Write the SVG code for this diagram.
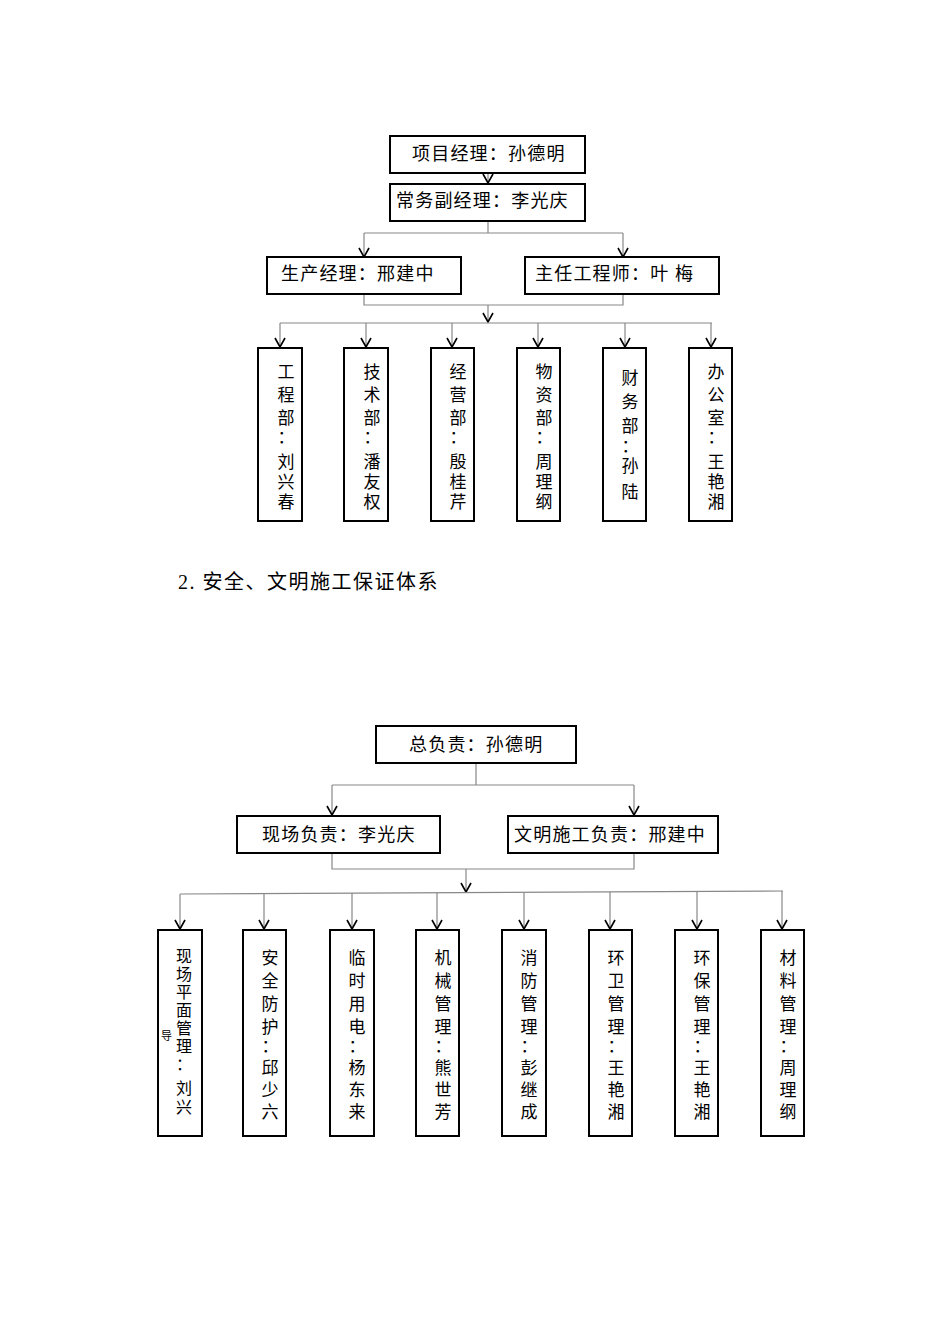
<svg xmlns="http://www.w3.org/2000/svg" width="950" height="1344" viewBox="0 0 950 1344">
<defs>
<marker id="ah" viewBox="-1 -6 11 12" refX="9" refY="0" markerWidth="11" markerHeight="12" markerUnits="userSpaceOnUse" orient="auto">
<path d="M0,-5 L9,0 L0,5" fill="none" stroke="#000" stroke-width="1.6"/>
</marker>
</defs>
<style>
rect{fill:#fff;stroke:#000;stroke-width:2}
text{font-family:"Liberation Serif","Noto Sans CJK SC",serif;font-size:18px;fill:#000}
.h{letter-spacing:1.2px}
.v{text-anchor:middle;font-size:17px}
.w{text-anchor:middle;font-size:16px}
.c{fill:none;stroke:#888;stroke-width:1.2}
.a{marker-end:url(#ah)}
</style>
<rect width="950" height="1344" style="fill:#fff;stroke:none"/>
<g id="connectors">
<path class="c a" d="M488,173 V183"/>
<path class="c" d="M488,221 V233 M364,233 H623"/>
<path class="c a" d="M364,233 V257"/>
<path class="c a" d="M623,233 V257"/>
<path class="c" d="M364,294 V305 H623 V294"/>
<path class="c a" d="M488,305 V322"/>
<path class="c" d="M280,323 H712"/>
<path class="c a" d="M280,323 V347"/><path class="c a" d="M366,323 V347"/><path class="c a" d="M452,323 V347"/>
<path class="c a" d="M538,323 V347"/><path class="c a" d="M625,323 V347"/><path class="c a" d="M711,323 V347"/>
<path class="c" d="M476,763 V785 M332,785 H634"/>
<path class="c a" d="M332,785 V815"/><path class="c a" d="M634,785 V815"/>
<path class="c" d="M332,853 V869 H634 V853"/>
<path class="c a" d="M466,869 V892"/>
<path class="c" d="M180,894 L783,891"/>
<path class="c a" d="M180,894 V929"/><path class="c a" d="M264,894 V929"/><path class="c a" d="M352,893 V929"/><path class="c a" d="M437,893 V929"/>
<path class="c a" d="M524,893 V929"/><path class="c a" d="M610,892 V929"/><path class="c a" d="M697,892 V929"/><path class="c a" d="M782,891 V929"/>
</g>
<g id="n1"><rect x="390" y="136" width="195" height="37"/><text class="h" x="412" y="160">项目经理：孙德明</text></g>
<g id="n2"><rect x="390" y="184" width="195" height="37"/><text class="h" x="396" y="207">常务副经理：李光庆</text></g>
<g id="n3"><rect x="267" y="257" width="194" height="37"/><text class="h" x="281" y="280">生产经理：邢建中</text></g>
<g id="n4"><rect x="525" y="257" width="194" height="37"/><text class="h" x="535" y="280">主任工程师：叶  梅</text></g>
<g id="d1"><rect x="258" y="348" width="44" height="173"/><text class="v" x="286" y="378">工</text><text class="v" x="286" y="401">程</text><text class="v" x="286" y="424">部</text><text class="v" x="286" y="443">：</text><text class="v" x="286" y="468">刘</text><text class="v" x="286" y="488">兴</text><text class="v" x="286" y="508">春</text></g>
<g id="d2"><rect x="344" y="348" width="44" height="173"/><text class="v" x="372" y="378">技</text><text class="v" x="372" y="401">术</text><text class="v" x="372" y="424">部</text><text class="v" x="372" y="443">：</text><text class="v" x="372" y="468">潘</text><text class="v" x="372" y="488">友</text><text class="v" x="372" y="508">权</text></g>
<g id="d3"><rect x="431" y="348" width="43" height="173"/><text class="v" x="458" y="378">经</text><text class="v" x="458" y="401">营</text><text class="v" x="458" y="424">部</text><text class="v" x="458" y="443">：</text><text class="v" x="458" y="468">殷</text><text class="v" x="458" y="488">桂</text><text class="v" x="458" y="508">芹</text></g>
<g id="d4"><rect x="517" y="348" width="43" height="173"/><text class="v" x="544" y="378">物</text><text class="v" x="544" y="401">资</text><text class="v" x="544" y="424">部</text><text class="v" x="544" y="443">：</text><text class="v" x="544" y="468">周</text><text class="v" x="544" y="488">理</text><text class="v" x="544" y="508">纲</text></g>
<g id="d5"><rect x="603" y="348" width="43" height="173"/><text class="v" x="630" y="384">财</text><text class="v" x="630" y="408">务</text><text class="v" x="630" y="432">部</text><text class="v" x="630" y="452">：</text><text class="v" x="630" y="472">孙</text><text class="v" x="630" y="498">陆</text></g>
<g id="d6"><rect x="689" y="348" width="43" height="173"/><text class="v" x="716" y="378">办</text><text class="v" x="716" y="401">公</text><text class="v" x="716" y="424">室</text><text class="v" x="716" y="443">：</text><text class="v" x="716" y="468">王</text><text class="v" x="716" y="488">艳</text><text class="v" x="716" y="508">湘</text></g>
<text id="heading" x="178" y="589" style="font-size:20px;letter-spacing:1.5px">2. 安全、文明施工保证体系</text>
<g id="m1"><rect x="376" y="726" width="200" height="37"/><text class="h" x="409" y="751">总负责：孙德明</text></g>
<g id="m2"><rect x="237" y="816" width="203" height="37"/><text class="h" x="262" y="841">现场负责：李光庆</text></g>
<g id="m3"><rect x="508" y="816" width="210" height="37"/><text class="h" x="514" y="841">文明施工负责：邢建中</text></g>
<g id="s1"><rect x="158" y="930" width="44" height="206"/><text class="w" x="184" y="962">现</text><text class="w" x="184" y="980">场</text><text class="w" x="184" y="998">平</text><text class="w" x="184" y="1016">面</text><text class="w" x="184" y="1034">管</text><text class="w" x="184" y="1052">理</text><text class="w" x="184" y="1070">：</text><text class="w" x="184" y="1094">刘</text><text class="w" x="184" y="1113">兴</text><text x="161" y="1040" style="font-size:11px">导</text></g>
<g id="s2"><rect x="243" y="930" width="43" height="206"/><text class="v" x="270" y="964">安</text><text class="v" x="270" y="987">全</text><text class="v" x="270" y="1010">防</text><text class="v" x="270" y="1033">护</text><text class="v" x="270" y="1052">：</text><text class="v" x="270" y="1074">邱</text><text class="v" x="270" y="1096">少</text><text class="v" x="270" y="1118">六</text></g>
<g id="s3"><rect x="330" y="930" width="44" height="206"/><text class="v" x="357" y="964">临</text><text class="v" x="357" y="987">时</text><text class="v" x="357" y="1010">用</text><text class="v" x="357" y="1033">电</text><text class="v" x="357" y="1052">：</text><text class="v" x="357" y="1074">杨</text><text class="v" x="357" y="1096">东</text><text class="v" x="357" y="1118">来</text></g>
<g id="s4"><rect x="416" y="930" width="43" height="206"/><text class="v" x="443" y="964">机</text><text class="v" x="443" y="987">械</text><text class="v" x="443" y="1010">管</text><text class="v" x="443" y="1033">理</text><text class="v" x="443" y="1052">：</text><text class="v" x="443" y="1074">熊</text><text class="v" x="443" y="1096">世</text><text class="v" x="443" y="1118">芳</text></g>
<g id="s5"><rect x="502" y="930" width="44" height="206"/><text class="v" x="529" y="964">消</text><text class="v" x="529" y="987">防</text><text class="v" x="529" y="1010">管</text><text class="v" x="529" y="1033">理</text><text class="v" x="529" y="1052">：</text><text class="v" x="529" y="1074">彭</text><text class="v" x="529" y="1096">继</text><text class="v" x="529" y="1118">成</text></g>
<g id="s6"><rect x="589" y="930" width="43" height="206"/><text class="v" x="616" y="964">环</text><text class="v" x="616" y="987">卫</text><text class="v" x="616" y="1010">管</text><text class="v" x="616" y="1033">理</text><text class="v" x="616" y="1052">：</text><text class="v" x="616" y="1074">王</text><text class="v" x="616" y="1096">艳</text><text class="v" x="616" y="1118">湘</text></g>
<g id="s7"><rect x="675" y="930" width="43" height="206"/><text class="v" x="702" y="964">环</text><text class="v" x="702" y="987">保</text><text class="v" x="702" y="1010">管</text><text class="v" x="702" y="1033">理</text><text class="v" x="702" y="1052">：</text><text class="v" x="702" y="1074">王</text><text class="v" x="702" y="1096">艳</text><text class="v" x="702" y="1118">湘</text></g>
<g id="s8"><rect x="761" y="930" width="43" height="206"/><text class="v" x="788" y="964">材</text><text class="v" x="788" y="987">料</text><text class="v" x="788" y="1010">管</text><text class="v" x="788" y="1033">理</text><text class="v" x="788" y="1052">：</text><text class="v" x="788" y="1074">周</text><text class="v" x="788" y="1096">理</text><text class="v" x="788" y="1118">纲</text></g>
</svg>
